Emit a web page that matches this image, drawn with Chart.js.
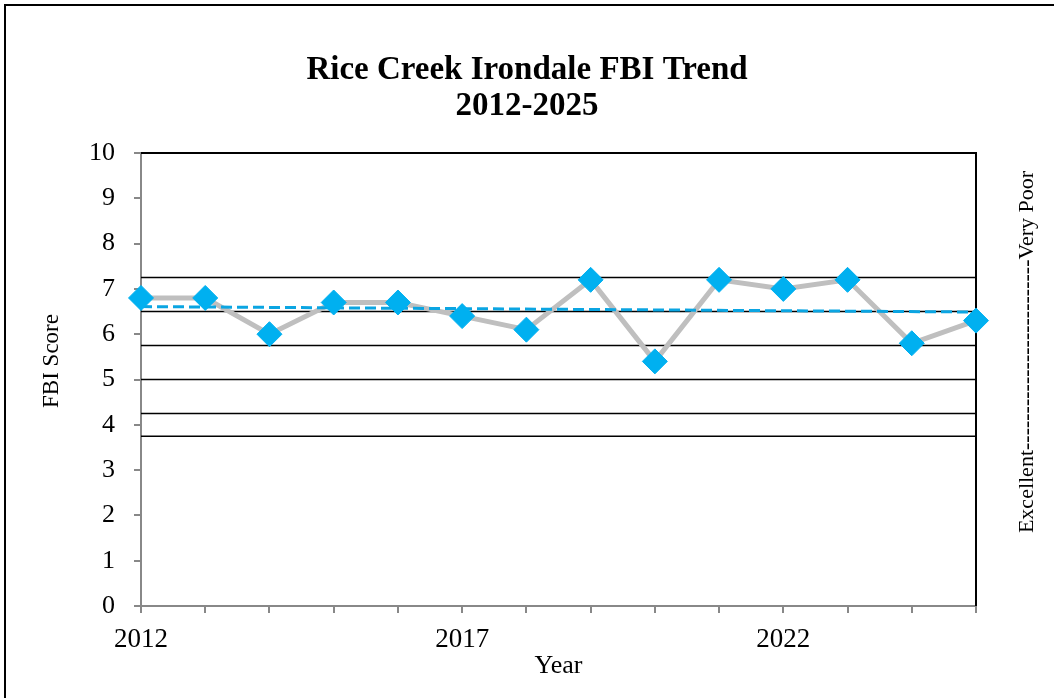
<!DOCTYPE html>
<html>
<head>
<meta charset="utf-8">
<script src="https://cdn.jsdelivr.net/npm/chart.js@4/dist/chart.umd.min.js"></script>
<style>
  html, body { margin: 0; padding: 0; background: #fff; overflow: hidden; }
  #frame { position: absolute; left: 4px; top: 4px; width: 2000px; height: 2000px;
           border-left: 2px solid #000; border-top: 2px solid #000; }
  #wrap { position: absolute; left: 0; top: 0; width: 1054px; height: 698px; }
</style>
</head>
<body>
<div id="frame"></div>
<div id="wrap"><canvas id="myChart"></canvas></div>
<script>
const ctx = document.getElementById('myChart')

// FBI score per year
const years = [2012, 2013, 2014, 2015, 2016, 2017, 2018, 2019, 2020, 2021, 2022, 2023, 2024, 2025]
const fbiScores = [6.8, 6.8, 6.0, 6.7, 6.7, 6.4, 6.1, 7.2, 5.4, 7.2, 7.0, 7.2, 5.8, 6.3]

// linear trend end points
const trendYears = [2012, 2025]
const trendScores = [6.61, 6.49]

// rating class boundaries (horizontal lines)
const ratingBreaks = [3.75, 4.25, 5, 5.75, 6.5, 7.25]

// labelled years on the x axis
const xTickLabels = [2012, 2017, 2022]

const toPoints = (xs, ys) => xs.map((x, i) => ({x: x, y: ys[i]}))

const breakSets = ratingBreaks.map(b => ({
  data: toPoints([years[0], years[years.length - 1]], [b, b]),
  borderColor: '#000',
  borderWidth: 1.5,
  pointRadius: 0
}))

const extraText = {
  id: 'extraText',
  beforeDatasetsDraw(chart) {
    const {ctx, chartArea: a} = chart
    ctx.save()
    // plot frame top and right in black
    ctx.strokeStyle = '#000'
    ctx.lineWidth = 2
    ctx.beginPath()
    ctx.moveTo(a.left, a.top)
    ctx.lineTo(a.right, a.top)
    ctx.lineTo(a.right, a.bottom)
    ctx.stroke()
    ctx.restore()
  },
  afterDraw(chart) {
    const {ctx} = chart
    ctx.save()
    ctx.fillStyle = '#000'
    ctx.textAlign = 'center'
    ctx.textBaseline = 'middle'
    ctx.font = "23px 'Liberation Serif', serif"
    ctx.translate(52, 361)
    ctx.rotate(-Math.PI / 2)
    ctx.fillText('FBI Score', 0, 0)
    ctx.restore()

    ctx.save()
    ctx.fillStyle = '#000'
    ctx.textAlign = 'center'
    ctx.textBaseline = 'middle'
    ctx.font = "22px 'Liberation Serif', serif"
    ctx.translate(1027, 352)
    ctx.rotate(-Math.PI / 2)
    ctx.fillText('Excellent--------------------------Very Poor', 0, 0)
    ctx.restore()
  }
}

Chart.defaults.font.family = "'Liberation Serif', serif"
Chart.defaults.color = '#000'

new Chart(ctx, {
  type: 'line',
  data: {
    datasets: [
      {
        // markers
        data: toPoints(years, fbiScores),
        showLine: false,
        pointStyle: 'rectRot',
        pointRadius: 12.5,
        pointBackgroundColor: '#00B0F0',
        pointBorderColor: '#00B0F0',
        pointBorderWidth: 1,
        clip: false
      },
      {
        data: toPoints(trendYears, trendScores),
        borderColor: '#0BA5E2',
        borderWidth: 3,
        borderDash: [11, 5],
        pointRadius: 0
      },
      {
        data: toPoints(years, fbiScores),
        borderColor: '#BFBFBF',
        borderWidth: 5,
        pointRadius: 0
      },
      ...breakSets
    ]
  },
  plugins: [extraText],
  options: {
    responsive: true,
    maintainAspectRatio: false,
    animation: false,
    layout: {padding: 0},
    plugins: {
      legend: {display: false},
      tooltip: {enabled: false},
      title: {
        display: true,
        text: ['Rice Creek Irondale FBI Trend', '2012-2025'],
        font: {size: 33, weight: 'bold', lineHeight: '36px'},
        color: '#000',
        padding: {top: 52, bottom: 29}
      }
    },
    scales: {
      x: {
        type: 'linear',
        min: 2012,
        max: 2025,
        afterFit: s => { s.height = 92 },
        border: {color: '#888', width: 2},
        grid: {drawOnChartArea: false, color: '#888', lineWidth: 2, tickLength: 7},
        ticks: {
          stepSize: 1,
          autoSkip: false,
          maxRotation: 0,
          padding: 11,
          font: {size: 27},
          callback: v => xTickLabels.includes(v) ? String(v) : ''
        },
        title: {display: true, text: 'Year', font: {size: 26}, padding: {top: 0, bottom: 16}}
      },
      y: {
        min: 0,
        max: 10,
        afterFit: s => { s.width = 141 },
        border: {color: '#888', width: 2},
        grid: {drawOnChartArea: false, color: '#888', lineWidth: 2, tickLength: 7},
        ticks: {stepSize: 1, padding: 19, font: {size: 26}}
      },
      // empty right-hand strip that holds the side label
      y2: {
        position: 'right',
        min: 0,
        max: 10,
        afterFit: s => { s.width = 78 },
        border: {display: false},
        grid: {display: false},
        ticks: {display: false}
      }
    }
  }
})
</script>
</body>
</html>
